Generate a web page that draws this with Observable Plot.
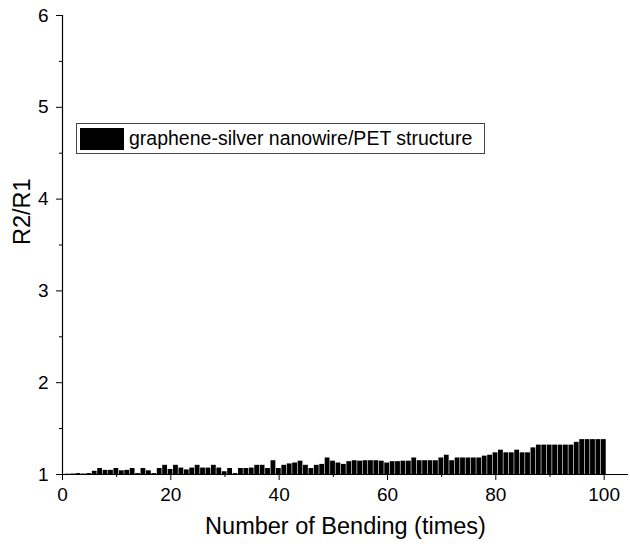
<!DOCTYPE html>
<html>
<head>
<meta charset="utf-8">
<script src="https://cdn.jsdelivr.net/npm/d3@7"></script>
<script src="https://cdn.jsdelivr.net/npm/@observablehq/plot@0.6"></script>
<style>
  body { margin: 0; background: #fff; }
  #wrap { position: relative; width: 630px; height: 550px; font-family: "Liberation Sans", Arial, sans-serif; }
  #legend { position: absolute; left: 76px; top: 123px; width: 409px; height: 31px; border: 1px solid #444; box-sizing: border-box; display: flex; align-items: center; padding: 0 3px; background: #fff; }
  #legend .sw { width: 44px; height: 22px; background: #000; margin-right: 5px; flex: none; }
  #legend span { font-size: 19.5px; color: #000; white-space: nowrap; }
</style>
</head>
<body>
<div id="wrap">
  <div id="chart"></div>
  <div id="legend"><div class="sw"></div><span id="legtext"></span></div>
</div>
<script>
const seriesName = "graphene-silver nanowire/PET structure";
const bendings = d3.range(1, 101);
const ratio = [
  1.003, 1.005, 1.01, 1.005, 1.01, 1.035, 1.065, 1.045, 1.045, 1.065,
  1.04, 1.045, 1.065, 1.01, 1.065, 1.04, 1.01, 1.065, 1.1, 1.055,
  1.1, 1.07, 1.05, 1.07, 1.1, 1.07, 1.07, 1.1, 1.07, 1.03,
  1.065, 1.01, 1.065, 1.065, 1.07, 1.1, 1.1, 1.065, 1.15, 1.065,
  1.1, 1.115, 1.125, 1.145, 1.1, 1.065, 1.1, 1.11, 1.18, 1.145,
  1.125, 1.11, 1.14, 1.15, 1.145, 1.15, 1.15, 1.15, 1.145, 1.125,
  1.14, 1.14, 1.145, 1.145, 1.18, 1.15, 1.15, 1.15, 1.15, 1.18,
  1.21, 1.15, 1.18, 1.18, 1.18, 1.18, 1.18, 1.2, 1.21, 1.236,
  1.265, 1.236, 1.236, 1.265, 1.236, 1.236, 1.29, 1.32, 1.32, 1.32,
  1.32, 1.32, 1.32, 1.32, 1.35, 1.38, 1.38, 1.38, 1.38, 1.38
];
const xMajor = [0, 20, 40, 60, 80, 100];
const xMinor = [10, 30, 50, 70, 90];
const yMajor = [1, 2, 3, 4, 5, 6];
const yMinor = [1.5, 2.5, 3.5, 4.5, 5.5];
const xTitle = "Number of Bending (times)";
const yTitle = "R2/R1";

const data = bendings.map((n, i) => ({n, v: ratio[i]}));

document.getElementById("legtext").textContent = seriesName;

const chart = Plot.plot({
  width: 630,
  height: 550,
  marginLeft: 62,
  marginRight: 2,
  marginTop: 15,
  marginBottom: 76,
  style: {fontFamily: "'Liberation Sans', Arial, sans-serif", fontSize: "19px", color: "#000", background: "#fff"},
  x: {domain: [0, 104.5]},
  y: {domain: [1, 6]},
  marks: [
    Plot.rectY(data, {x1: d => d.n - 0.5, x2: d => d.n + 0.5, y1: 1, y2: "v", fill: "#000", insetRight: 0.6}),
    Plot.axisX({ticks: xMajor, tickSize: 6, tickPadding: 7, tickFormat: d => String(d), label: null, fontSize: 19}),
    Plot.axisX({ticks: xMinor, tickSize: 3, tickFormat: () => "", label: null}),
    Plot.axisY({ticks: yMajor, tickSize: 6, tickPadding: 8, tickFormat: d => String(d), label: null, fontSize: 19}),
    Plot.axisY({ticks: yMinor, tickSize: 3, tickFormat: () => "", label: null}),
    Plot.ruleY([1], {stroke: "#000", strokeWidth: 1.2}),
    Plot.ruleX([0], {stroke: "#000", strokeWidth: 1.2}),
    Plot.text([xTitle], {frameAnchor: "bottom", dy: 59, fontSize: 23.5, text: d => d}),
    Plot.text([yTitle], {frameAnchor: "left", dx: -40, rotate: -90, fontSize: 23.5, text: d => d})
  ]
});
document.getElementById("chart").appendChild(chart);
</script>
</body>
</html>
